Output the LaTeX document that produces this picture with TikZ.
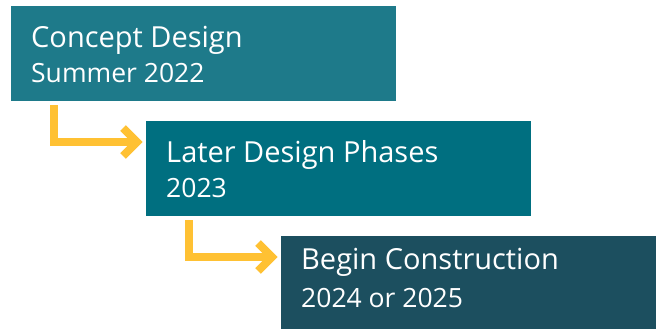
\documentclass[tikz,border=0pt]{standalone}
\usepackage{fontspec}
\setmainfont{Open Sans}
\usetikzlibrary{calc}
\definecolor{boxA}{RGB}{30,122,138}
\definecolor{boxB}{RGB}{0,111,128}
\definecolor{boxC}{RGB}{28,79,95}
\definecolor{arrowY}{RGB}{255,193,51}
\tikzset{
  phase/.style={rectangle, inner sep=0pt, anchor=north west, minimum width=385pt, minimum height=95pt},
  titletext/.style={anchor=base west, inner sep=0pt, text=white, font=\fontsize{29}{34}\selectfont},
  subtext/.style={anchor=base west, inner sep=0pt, text=white, font=\fontsize{26.5}{31}\selectfont},
  elbow/.style={draw=arrowY, line width=8pt, miter limit=10, line join=miter},
}
\begin{document}
\begin{tikzpicture}[x=1pt,y=-1pt]
\useasboundingbox (0,0) rectangle (656,329);
\node[phase, fill=boxA] (b1) at (11,6) {};
\node[phase, fill=boxB] (b2) at (146,121) {};
\node[phase, fill=boxC, minimum width=375pt, minimum height=93pt] (b3) at (281,236) {};
\node[titletext] (t1) at ($(b1.north west)+(20,42)$) {Concept Design};
\node[subtext] (s1) at ($(b1.north west)+(20,76)$) {Summer 2022};
\node[titletext] (t2) at ($(b2.north west)+(20,41)$) {Later Design Phases};
\node[subtext] (s2) at ($(b2.north west)+(20,76)$) {2023};
\node[titletext] (t3) at ($(b3.north west)+(20,33)$) {Begin Construction};
\node[subtext] (s3) at ($(b3.north west)+(20,71)$) {2024 or 2025};
% arrow 1
\coordinate (a1s) at ($(b1.south west)+(43,4)$);
\coordinate (a1t) at ($(b2.north west)+(-9,21)$);
\draw[elbow] (a1s) |- (a1t);
\draw[elbow] ($(a1t)+(-14,-14)$) -- (a1t) -- ($(a1t)+(-14,14)$);
% arrow 2
\coordinate (a2s) at ($(b2.south west)+(43,4)$);
\coordinate (a2t) at ($(b3.north west)+(-9,21)$);
\draw[elbow] (a2s) |- (a2t);
\draw[elbow] ($(a2t)+(-14,-14)$) -- (a2t) -- ($(a2t)+(-14,14)$);
\end{tikzpicture}
\end{document}
